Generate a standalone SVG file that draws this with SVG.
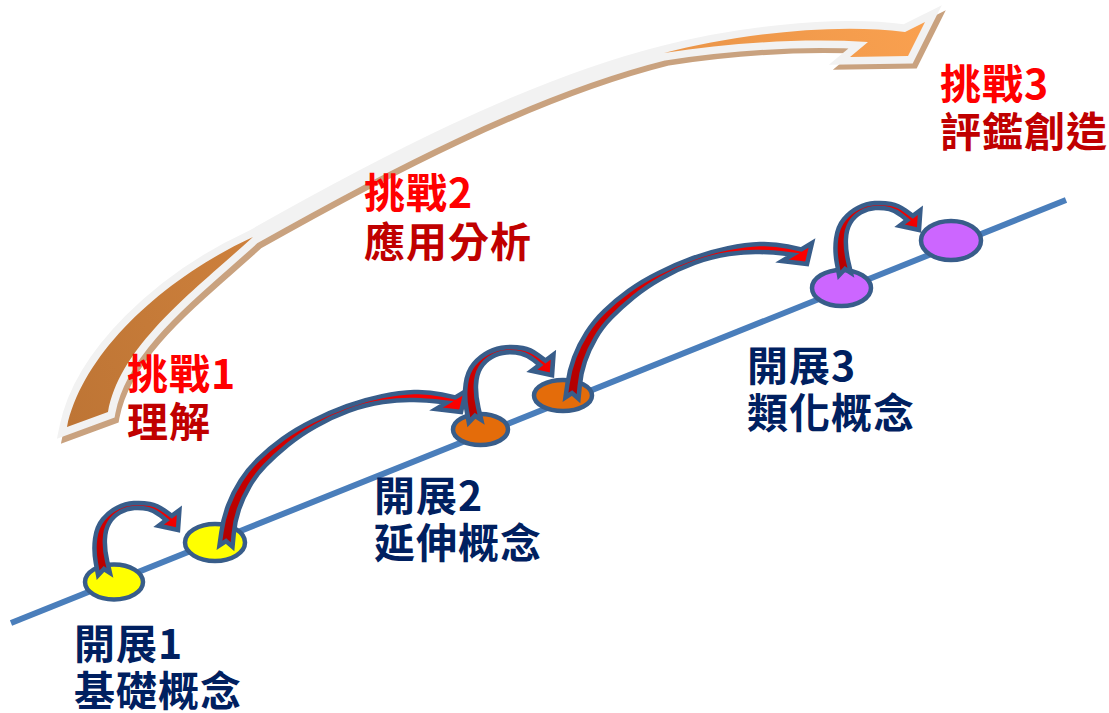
<svg xmlns="http://www.w3.org/2000/svg" width="1109" height="713" viewBox="0 0 1109 713">
<style>
.lbl{font-family:"Noto Sans CJK TC","Noto Sans CJK SC",sans-serif;font-size:41px;font-weight:700;letter-spacing:1px}
.ch1{fill:#FF0000}
.ch2{fill:#C00000}
.dv{fill:#002060}
.node{stroke:#385D8A;stroke-width:4.5}
.arw{fill:url(#redg);stroke:#385D8A;stroke-width:4.5;stroke-linejoin:miter}
</style>
<defs>
<linearGradient id="redg" x1="0" y1="1" x2="1" y2="0"><stop offset="0" stop-color="#B00000"/><stop offset="1" stop-color="#FF0000"/></linearGradient>
<linearGradient id="orgg" gradientUnits="userSpaceOnUse" x1="70" y1="420" x2="920" y2="30"><stop offset="0" stop-color="#BE7535"/><stop offset="1" stop-color="#F9A04F"/></linearGradient>
<path id="bigp" d="M67,427 C82,355 160,280 253,237 C375,168 528,87 664,53 C730,36 830,22 905,32 L925,22 L908,56 L850,57 L868,42 C800,38 730,43 664,53 C528,87 375,168 253,237 C195,290 120,345 108,412 Z"/>
<path id="hop" class="arw" d="M98.1,575.2 L95.8,562.8 Q93.5,550.4 95.1,538.5 Q96.7,526.6 102.9,519.2 Q109,511.8 117.2,507.7 Q125.3,503.6 133.8,503.1 Q142.2,502.5 149.8,503.9 Q157.3,505.3 164.6,510.6 L171.8,515.9 L179.4,510.2 L178,530 L158.6,525.8 L166.2,520.1 L160.5,515.4 Q154.7,510.7 148.3,509.1 Q141.8,507.5 134.3,508 Q126.7,508.4 119.9,512.4 Q113,516.3 109.2,522.9 Q105.3,529.4 104.9,539.5 Q104.5,549.6 107.2,561.2 L109.9,572.8 L104,569 Z"/>
<path id="arc" class="arw" d="M219.5,545.3 L221.4,532 Q223.2,518.6 228.1,505.6 Q233,492.6 240.6,480.8 Q248.1,468.9 258.6,458.8 Q269,448.6 282.6,438.8 Q296.1,429 312.6,420.9 Q329,412.7 346.7,406.2 Q364.3,399.6 382,396.1 Q399.7,392.5 414,392 Q428.4,391.5 441.8,394.5 L455.3,397.4 L466,391 L461,412 L436,409 L446.7,402.6 L437.2,401.5 Q427.6,400.5 414,400 Q400.3,399.5 383,402 Q365.7,404.4 348.4,410.9 Q331,417.3 315.5,426.2 Q299.9,435 287.5,445.2 Q275,455.4 265.5,465.3 Q255.9,475.1 249.5,486.3 Q243,497.4 238.9,509.4 Q234.8,521.4 233.7,534.1 L232.5,546.7 L226,541 Z"/>
</defs>
<g id="challenge-arrow">
<use href="#bigp" transform="translate(4,5)" fill="#C9A27F" stroke="#C9A27F" stroke-width="15" stroke-miterlimit="8"/>
<use href="#bigp" fill="#F2F2F2" stroke="#F2F2F2" stroke-width="15" stroke-miterlimit="8"/>
<use href="#bigp" fill="url(#orgg)"/>
</g>
<g id="axis"><line x1="11" y1="623" x2="1066" y2="200" stroke="#4A7EBB" stroke-width="6"/></g>
<g id="node1"><ellipse class="node" cx="114" cy="582" rx="29" ry="17.5" fill="#FFFF00"/></g>
<g id="node2"><ellipse class="node" cx="215" cy="542.5" rx="30" ry="18.5" fill="#FFFF00"/></g>
<g id="node3"><ellipse class="node" cx="480.5" cy="429.5" rx="27.5" ry="15.5" fill="#E46C0A"/></g>
<g id="node4"><ellipse class="node" cx="563" cy="395.5" rx="29" ry="15.5" fill="#E46C0A"/></g>
<g id="node5"><ellipse class="node" cx="841.5" cy="288" rx="29.5" ry="18" fill="#CC66FF"/></g>
<g id="node6"><ellipse class="node" cx="951" cy="240.5" rx="30" ry="19.5" fill="#CC66FF"/></g>
<g id="connectors">
<use href="#hop"/>
<use href="#arc"/>
<use href="#hop" transform="translate(475,421) scale(1.04) translate(-104,-574)"/>
<use href="#arc" transform="translate(346,-148)"/>
<use href="#hop" transform="translate(741,-300)"/>
</g>
<g id="label-challenge1" class="lbl"><text x="127" y="389" class="ch1">挑戰1</text><text x="127" y="437" class="ch2">理解</text></g>
<g id="label-challenge2" class="lbl"><text x="364" y="208" class="ch1">挑戰2</text><text x="364" y="257" class="ch2">應用分析</text></g>
<g id="label-challenge3" class="lbl"><text x="940" y="99" class="ch1">挑戰3</text><text x="940" y="147" class="ch2">評鑑創造</text></g>
<g id="label-stage1" class="lbl dv"><text x="74" y="659">開展1</text><text x="74" y="706">基礎概念</text></g>
<g id="label-stage2" class="lbl dv"><text x="374" y="511">開展2</text><text x="374" y="558">延伸概念</text></g>
<g id="label-stage3" class="lbl dv"><text x="747" y="381">開展3</text><text x="747" y="428">類化概念</text></g>
</svg>
